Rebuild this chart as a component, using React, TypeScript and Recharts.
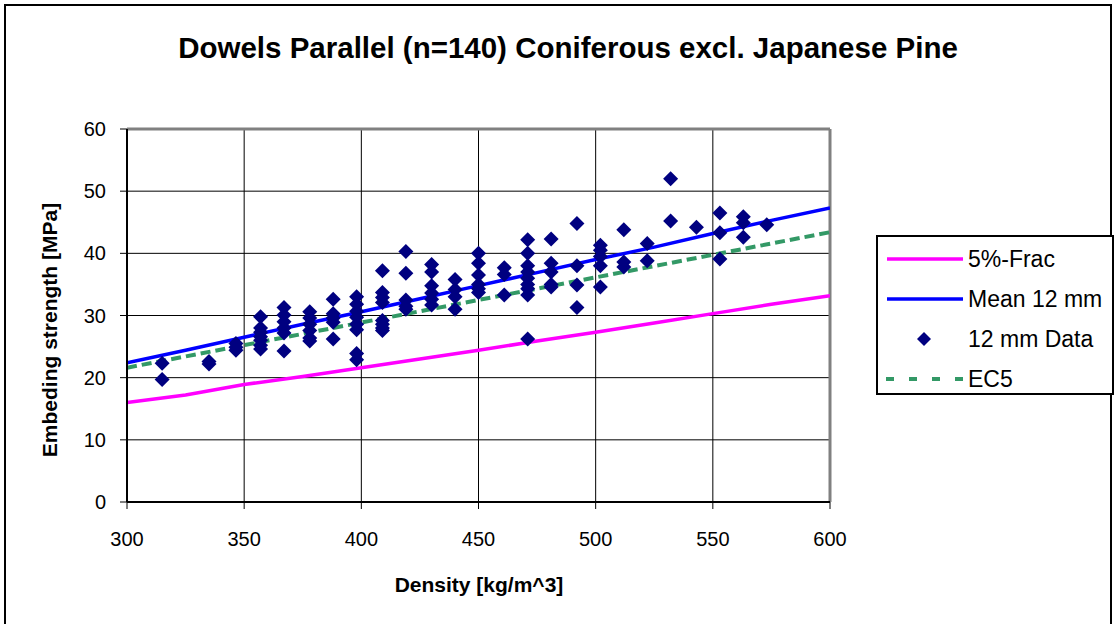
import React from 'react';
import {
  ComposedChart, Line, Scatter, XAxis, YAxis, CartesianGrid, ReferenceLine,
} from 'recharts';

// density classes of the test data (kg/m^3) and the strengths measured in each
const dataDensity = [315, 335, 346.5, 357, 367, 378, 388, 398, 409, 419, 430, 440, 450, 461, 471, 481, 492, 502, 512, 522, 532, 543, 553, 563, 573];
const dataStrength = [
  [22.3, 19.7],
  [22.6, 22.2],
  [25.5, 24.9, 24.4],
  [29.8, 28.0, 27.3, 26.6, 26.0, 25.2, 24.6],
  [31.3, 30.1, 29.0, 28.0, 27.2, 24.3],
  [30.6, 29.6, 28.6, 27.6, 26.4, 25.9],
  [32.6, 30.3, 29.6, 28.9, 26.2],
  [33.0, 31.8, 30.7, 29.7, 28.6, 27.7, 23.9, 22.9],
  [37.2, 33.7, 32.9, 32.1, 29.2, 28.6, 28.0, 27.6],
  [40.3, 36.8, 32.5, 31.5, 31.0],
  [38.2, 37.0, 34.8, 33.6, 32.6, 31.7],
  [35.8, 34.2, 33.0, 31.0],
  [40.0, 38.4, 36.5, 35.0, 34.3, 33.7],
  [37.7, 36.6, 33.3],
  [42.2, 40.0, 38.0, 37.0, 36.0, 35.0, 34.3, 33.3, 26.2],
  [42.3, 38.4, 37.0, 35.0, 34.6],
  [44.8, 38.0, 34.9, 31.3],
  [41.3, 40.5, 39.5, 38.0, 34.6],
  [43.8, 38.6, 37.8],
  [41.6, 38.8],
  [52.0, 45.2],
  [44.2],
  [46.5, 43.3, 39.1],
  [45.9, 44.9, 42.6],
  [44.6],
];

// fitted curves
const curveDensity = [300, 325, 350, 375, 400, 425, 450, 475, 500, 525, 550, 575, 600];
const meanValues = [22.4, 24.4, 26.5, 28.6, 30.6, 32.7, 34.8, 36.9, 39.0, 41.0, 43.2, 45.3, 47.3];
const fracValues = [16.0, 17.2, 18.9, 20.2, 21.6, 23.0, 24.4, 25.9, 27.3, 28.8, 30.3, 31.8, 33.2];
const ec5Density = [300, 600];
const ec5Values = [21.6, 43.4];

const xTicks = [300, 350, 400, 450, 500, 550, 600];
const yTicks = [0, 10, 20, 30, 40, 50, 60];

const FONT = 'Arial, "Liberation Sans", sans-serif';
const NAVY = '#000080';
const MAGENTA = '#ff00ff';
const BLUE = '#0000ff';
const GREEN = '#339966';

const scatterData = dataDensity.flatMap((x, i) => dataStrength[i].map((y) => ({ x, y })));
const meanData = curveDensity.map((x, i) => ({ x, y: meanValues[i] }));
const fracData = curveDensity.map((x, i) => ({ x, y: fracValues[i] }));
const ec5Data = ec5Density.map((x, i) => ({ x, y: ec5Values[i] }));

const Diamond = (props: any) => {
  const { cx, cy } = props;
  const r = 7.5;
  return <polygon points={`${cx},${cy - r} ${cx + r},${cy} ${cx},${cy + r} ${cx - r},${cy}`} fill={NAVY} />;
};

const legendItems = [
  { name: '5%-Frac', color: MAGENTA, kind: 'line' },
  { name: 'Mean 12 mm', color: BLUE, kind: 'line' },
  { name: '12 mm Data', color: NAVY, kind: 'marker' },
  { name: 'EC5', color: GREEN, kind: 'dash' },
];

export default function App() {
  const tickStyle = { fill: '#000', fontSize: 20, fontFamily: FONT };
  return (
    <div style={{ position: 'absolute', left: 0, top: 0, width: 1117, height: 624, background: '#fff', overflow: 'hidden', fontFamily: FONT }}>
      <div style={{ position: 'absolute', left: 4, top: 4, width: 1108, height: 640, border: '2px solid #000', boxSizing: 'border-box' }} />
      <div style={{ position: 'absolute', left: 0, width: 1136, top: 31, textAlign: 'center', fontSize: 29.5, fontWeight: 'bold' }}>
        Dowels Parallel (n=140) Coniferous excl. Japanese Pine
      </div>
      <ComposedChart
        width={1117}
        height={624}
        margin={{ top: 129, right: 287, bottom: 92, left: 0 }}
        style={{ position: 'absolute', left: 0, top: 0 }}
      >
        <CartesianGrid stroke="#000" strokeWidth={1} />
        <XAxis
          type="number"
          dataKey="x"
          domain={[300, 600]}
          ticks={xTicks}
          allowDataOverflow
          tick={tickStyle}
          tickSize={7}
          tickMargin={23}
          height={30}
          axisLine={{ stroke: '#000', strokeWidth: 2 }}
          tickLine={{ stroke: '#000' }}
        />
        <YAxis
          type="number"
          domain={[0, 60]}
          ticks={yTicks}
          width={127}
          tick={tickStyle}
          tickSize={7}
          tickMargin={14}
          axisLine={{ stroke: '#000', strokeWidth: 2 }}
          tickLine={{ stroke: '#000' }}
        />
        <ReferenceLine y={60} stroke="#808080" strokeWidth={3} />
        <ReferenceLine x={600} stroke="#808080" strokeWidth={3} />
        <Line data={fracData} dataKey="y" stroke={MAGENTA} strokeWidth={3.5} dot={false} isAnimationActive={false} />
        <Line data={ec5Data} dataKey="y" stroke={GREEN} strokeWidth={4} strokeDasharray="10 5" dot={false} isAnimationActive={false} />
        <Scatter data={scatterData} dataKey="y" shape={Diamond} isAnimationActive={false} />
        <Line data={meanData} dataKey="y" stroke={BLUE} strokeWidth={3.5} dot={false} isAnimationActive={false} />
      </ComposedChart>
      <div style={{ position: 'absolute', left: 0, top: 330, width: 100, height: 0 }}>
        <div style={{ position: 'absolute', left: 50, top: 0, transform: 'translate(-50%, -50%) rotate(-90deg)', whiteSpace: 'nowrap', fontSize: 21, fontWeight: 'bold' }}>
          Embeding strength [MPa]
        </div>
      </div>
      <div style={{ position: 'absolute', left: 379, width: 200, top: 573, textAlign: 'center', fontSize: 21, fontWeight: 'bold' }}>
        Density [kg/m^3]
      </div>
      <div style={{ position: 'absolute', left: 876, top: 235, width: 238, height: 160, border: '2px solid #000', boxSizing: 'border-box', background: '#fff' }}>
        {legendItems.map((it, i) => (
          <div key={it.name} style={{ position: 'absolute', left: 8, top: 9 + i * 40, height: 26, display: 'flex', alignItems: 'center' }}>
            <svg width={78} height={26}>
              {it.kind === 'line' && <line x1={1} x2={77} y1={13} y2={13} stroke={it.color} strokeWidth={3.5} />}
              {it.kind === 'dash' && <line x1={0} x2={78} y1={13} y2={13} stroke={it.color} strokeWidth={4} strokeDasharray="8 15" />}
              {it.kind === 'marker' && <polygon points="38,6 45,13 38,20 31,13" fill={it.color} />}
            </svg>
            <span style={{ marginLeft: 4, fontSize: 23, whiteSpace: 'nowrap' }}>{it.name}</span>
          </div>
        ))}
      </div>
    </div>
  );
}
